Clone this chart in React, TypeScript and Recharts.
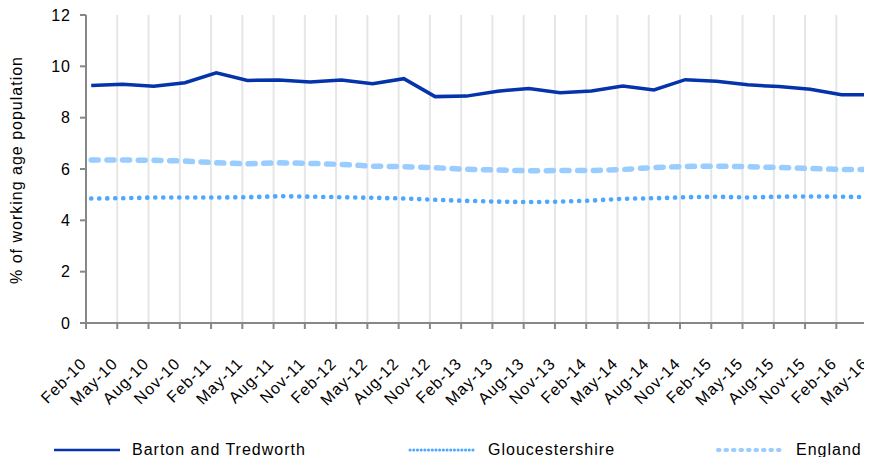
import React from 'react';
import { CartesianGrid, Legend, Line, LineChart, XAxis, YAxis } from 'recharts';

// quarterly readings, Feb-10 .. May-16
const months = [
  'Feb-10', 'May-10', 'Aug-10', 'Nov-10',
  'Feb-11', 'May-11', 'Aug-11', 'Nov-11',
  'Feb-12', 'May-12', 'Aug-12', 'Nov-12',
  'Feb-13', 'May-13', 'Aug-13', 'Nov-13',
  'Feb-14', 'May-14', 'Aug-14', 'Nov-14',
  'Feb-15', 'May-15', 'Aug-15', 'Nov-15',
  'Feb-16', 'May-16',
];

const barton = [
  9.25, 9.3, 9.22, 9.36,
  9.75, 9.45, 9.47, 9.39,
  9.47, 9.32, 9.52, 8.82,
  8.84, 9.03, 9.14, 8.97,
  9.04, 9.23, 9.08, 9.48,
  9.42, 9.28, 9.21, 9.11,
  8.89, 8.89,
];

const gloucestershire = [
  4.85, 4.86, 4.89, 4.89,
  4.89, 4.9, 4.94, 4.92,
  4.9, 4.88, 4.85, 4.8,
  4.76, 4.73, 4.71, 4.73,
  4.77, 4.84, 4.86, 4.9,
  4.92, 4.89, 4.92, 4.93,
  4.92, 4.9,
];

const england = [
  6.35, 6.35, 6.34, 6.31,
  6.24, 6.2, 6.24, 6.22,
  6.18, 6.11, 6.09, 6.05,
  5.99, 5.96, 5.93, 5.94,
  5.94, 5.98, 6.06, 6.1,
  6.11, 6.09, 6.06, 6.02,
  5.98, 5.98,
];

const yTicks = [0, 2, 4, 6, 8, 10, 12];

// one slot per month; each reading sits in the middle of its month
const MONTHS_SHOWN = 76;
const data = months.map((label, i) => ({
  x: i * 3 + 0.5,
  label,
  barton: barton[i],
  gloucestershire: gloucestershire[i],
  england: england[i],
}));
const xTicks = months.map((_, i) => i * 3);

const FONT = '"Liberation Sans", Arial, sans-serif';
const AXIS_GREY = '#878787';
const DARK = '#0433ab';
const MID = '#4da6ff';
const LIGHT = '#99ccff';

const textStyle = {
  fontFamily: FONT,
  fontSize: 16,
  letterSpacing: 1,
  fill: '#000',
};

function MonthTick({ x, y, payload }: { x?: number; y?: number; payload?: { value: number } }) {
  const label = months[Math.round((payload?.value ?? 0) / 3)];
  return (
    <g transform={`translate(${(x ?? 0) - 1.5},${(y ?? 0) + 30.5})`}>
      <text textAnchor='end' dominantBaseline='middle' transform='rotate(-45)' style={textStyle}>
        {label}
      </text>
    </g>
  );
}

function YLabel({ viewBox }: { viewBox?: { x: number; y: number; height: number } }) {
  if (!viewBox) return null;
  const cx = viewBox.x + 18;
  const cy = viewBox.y + viewBox.height / 2 + 1;
  return (
    <text
      x={cx}
      y={cy}
      textAnchor='middle'
      dominantBaseline='middle'
      transform={`rotate(-90, ${cx}, ${cy})`}
      style={textStyle}
    >
      % of working age population
    </text>
  );
}

const legendItems = [
  { name: 'Barton and Tredworth', left: 52, color: DARK, width: 2.5, dash: undefined, cap: 'butt' },
  { name: 'Gloucestershire', left: 408, color: MID, width: 3, dash: '0.1 3.6', cap: 'round' },
  { name: 'England', left: 716, color: LIGHT, width: 4, dash: '1.5 6', cap: 'round' },
];

function ChartLegend() {
  return (
    <div style={{ position: 'relative', height: 28 }}>
      {legendItems.map((item) => (
        <div
          key={item.name}
          style={{ position: 'absolute', left: item.left, top: 0, height: 26, display: 'flex', alignItems: 'center' }}
        >
          <svg width={70} height={10} style={{ marginRight: 10 }}>
            <line
              x1={2}
              x2={68}
              y1={5}
              y2={5}
              stroke={item.color}
              strokeWidth={item.width}
              strokeDasharray={item.dash}
              strokeLinecap={item.cap as 'butt' | 'round'}
            />
          </svg>
          <span style={{ fontFamily: FONT, fontSize: 16, lineHeight: '18px', letterSpacing: 1, color: '#000', whiteSpace: 'nowrap' }}>
            {item.name}
          </span>
        </div>
      ))}
    </div>
  );
}

export default function App() {
  // the plot runs a little past the right edge of the picture, so the frame crops it
  return (
    <div style={{ width: 872, height: 465, overflow: 'hidden', margin: -8, background: '#fff' }}>
      <div style={{ width: 880, height: 465 }}>
        <LineChart width={880} height={465} data={data} margin={{ top: 15, right: 2, left: 0, bottom: 0 }}>
          <CartesianGrid vertical horizontal={false} stroke='#e6e6e6' strokeWidth={2} />
          <XAxis
            dataKey='x'
            type='number'
            domain={[0, MONTHS_SHOWN]}
            ticks={xTicks}
            interval={0}
            height={114}
            axisLine={{ stroke: AXIS_GREY, strokeWidth: 2 }}
            tickLine={{ stroke: AXIS_GREY, strokeWidth: 2 }}
            tickSize={6}
            tickMargin={2}
            tick={<MonthTick />}
          />
          <YAxis
            type='number'
            domain={[0, 12]}
            ticks={yTicks}
            width={86}
            axisLine={{ stroke: AXIS_GREY, strokeWidth: 2 }}
            tickLine={{ stroke: AXIS_GREY, strokeWidth: 2 }}
            tickSize={6}
            tickMargin={9}
            tick={textStyle}
            label={<YLabel />}
          />
          <Legend verticalAlign='bottom' align='left' height={28} content={<ChartLegend />} wrapperStyle={{ left: 0, width: 872 }} />
          <Line
            type='linear'
            dataKey='england'
            name='England'
            stroke={LIGHT}
            strokeWidth={5.5}
            strokeDasharray='7 8.7'
            strokeLinecap='round'
            dot={false}
            isAnimationActive={false}
          />
          <Line
            type='linear'
            dataKey='gloucestershire'
            name='Gloucestershire'
            stroke={MID}
            strokeWidth={4.6}
            strokeDasharray='0.1 7.9'
            strokeLinecap='round'
            dot={false}
            isAnimationActive={false}
          />
          <Line
            type='linear'
            dataKey='barton'
            name='Barton and Tredworth'
            stroke={DARK}
            strokeWidth={3.5}
            dot={false}
            isAnimationActive={false}
          />
        </LineChart>
      </div>
    </div>
  );
}
